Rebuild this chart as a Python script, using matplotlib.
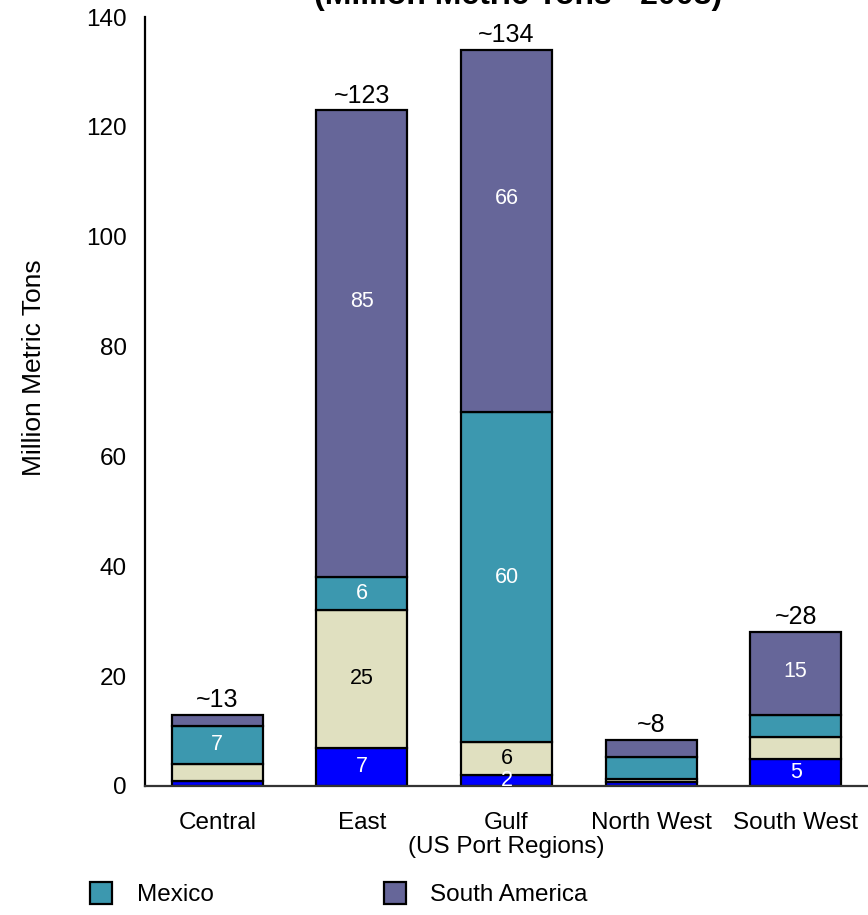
import matplotlib
matplotlib.use("Agg")
import matplotlib.pyplot as plt
from matplotlib.patches import Rectangle
import numpy as np

plt.rcParams['font.family'] = ['Liberation Sans', 'DejaVu Sans']

# US port regions and import tonnage by origin (million metric tons)
regions = ["Central", "East", "Gulf", "North West", "South West"]
canada = [1.0, 7.0, 2.0, 0.7, 5.0]
europe = [3.0, 25.0, 6.0, 0.6, 4.0]
mexico = [7.0, 6.0, 60.0, 4.0, 4.0]
south_america = [2.0, 85.0, 66.0, 3.1, 15.0]
total_labels = ["~13", "~123", "~134", "~8", "~28"]

# value labels shown inside segments (None = unlabeled)
canada_labels = [None, "7", "2", None, "5"]
europe_labels = [None, "25", "6", None, None]
mexico_labels = ["7", "6", "60", None, None]
sa_labels = [None, "85", "66", None, "15"]

colors = {
    "canada": "#0000FF",
    "europe": "#E0E0C0",
    "mexico": "#3C98AF",
    "sa": "#666699",
}

fig = plt.figure(figsize=(8.68, 9.15), dpi=100)
ax = fig.add_axes([145 / 868, (915 - 786) / 915, 723 / 868, 769 / 915])

x = np.arange(len(regions))
width = 0.63
# (values, colour, labels, label colour, relative height of label in segment)
series = [
    (canada, colors["canada"], canada_labels, "white", 0.5),
    (europe, colors["europe"], europe_labels, "black", 0.5),
    (mexico, colors["mexico"], mexico_labels, "white", 0.5),
    (south_america, colors["sa"], sa_labels, "white", None),
]
bottom = np.zeros(len(regions))
for vals, col, labs, tcol, frac in series:
    vals = np.array(vals)
    ax.bar(x, vals, width, bottom=bottom, color=col, edgecolor="black",
           linewidth=1.6, zorder=2)
    for i, lab in enumerate(labs):
        if lab is not None:
            f = frac if frac is not None else (0.59 if vals[i] > 50 else 0.52)
            ax.text(x[i], bottom[i] + vals[i] * f, lab, ha="center",
                    va="center", color=tcol, fontsize=15.5, zorder=3)
    bottom = bottom + vals

for i, lab in enumerate(total_labels):
    ax.annotate(lab, (x[i], bottom[i]), xytext=(0, 2),
                textcoords="offset points", ha="center", va="bottom",
                fontsize=18)

ax.set_xlim(-0.5, len(regions) - 0.5)
ax.set_ylim(0, 140)
ax.set_yticks(np.arange(0, 141, 20))
ax.set_xticks(x)
ax.set_xticklabels(regions, fontsize=17.5)
ax.tick_params(axis="y", length=0, pad=13, labelsize=17.5)
ax.tick_params(axis="x", length=0, pad=19)
for s in ["top", "right"]:
    ax.spines[s].set_visible(False)
ax.spines["left"].set_linewidth(1.6)
ax.spines["bottom"].set_linewidth(1.6)
ax.spines["bottom"].set_color("#333333")

ax.set_xlabel("(US Port Regions)", fontsize=17.5, labelpad=1)
ax.set_ylabel("Million Metric Tons", fontsize=19)
ax.yaxis.set_label_coords(-0.137, 0.544)

fig.text(518 / 868, 1 - 11 / 915, "(Million Metric Tons - 2008)",
         ha="center", va="bottom", fontsize=23, fontweight="bold")

handles = [Rectangle((0, 0), 1, 1, facecolor=colors["mexico"], edgecolor="black", linewidth=1.6),
           Rectangle((0, 0), 1, 1, facecolor=colors["sa"], edgecolor="black", linewidth=1.6)]
fig.legend(handles, ["Mexico", "South America"], loc="center left",
           bbox_to_anchor=(90 / 868, 1 - 894 / 915), ncol=2, frameon=False,
           fontsize=17.5, borderpad=0, borderaxespad=0, handlelength=0.92,
           handleheight=1.0, handletextpad=1.0, columnspacing=7.0)

fig.savefig("out.png", dpi=100)
